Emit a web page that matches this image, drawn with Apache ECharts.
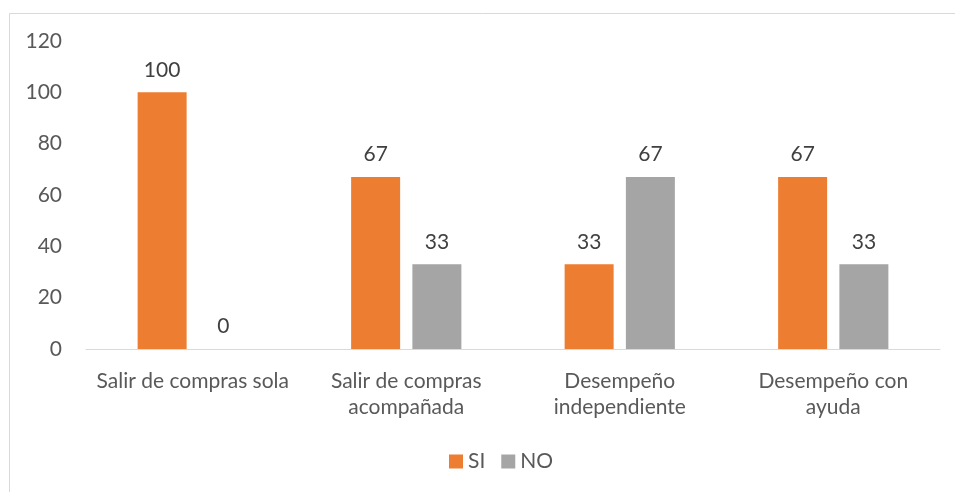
<!DOCTYPE html>
<html>
<head>
<meta charset="utf-8">
<script src="https://cdn.jsdelivr.net/npm/echarts@6/dist/echarts.min.js"></script>
<style>
  html, body { margin: 0; padding: 0; background: #fff; }
  #chart { width: 955px; height: 492px; }
</style>
</head>
<body>
<div id="chart"></div>
<script>
// categories and values
const categories = ['Salir de compras sola', 'Salir de compras\nacompañada', 'Desempeño\nindependiente', 'Desempeño con\nayuda']
const siValues = [100, 67, 33, 67]
const noValues = [0, 33, 67, 33]
const yTicks = { min: 0, max: 120, interval: 20 }

const textColor = '#595959'
const fontFamily = 'Lato, Liberation Sans, Arial, sans-serif'
const fontSize = 21

const chart = echarts.init(document.getElementById('chart'))

const barLabel = {
  show: true,
  position: 'top',
  distance: 12,
  color: '#404040',
  fontSize: fontSize,
  fontFamily: fontFamily
}

chart.setOption({
  animation: false,
  textStyle: { fontFamily: fontFamily },
  graphic: [{
    type: 'rect',
    shape: { x: 9.5, y: 13.5, width: 1000, height: 1000 },
    style: { fill: 'none', stroke: '#d9d9d9', lineWidth: 1 },
    silent: true
  }],
  grid: {
    left: 86,
    right: 15,
    top: 41,
    bottom: 143
  },
  legend: {
    bottom: 15,
    left: 444,
    itemWidth: 14,
    itemHeight: 14,
    itemGap: 16,
    icon: 'rect',
    textStyle: { color: textColor, fontSize: fontSize, fontFamily: fontFamily },
    data: ['SI', 'NO']
  },
  xAxis: {
    type: 'category',
    data: categories,
    axisTick: { show: false },
    axisLine: { lineStyle: { color: '#d9d9d9', width: 1 } },
    axisLabel: {
      color: textColor,
      fontSize: fontSize,
      lineHeight: 26,
      margin: 19,
      interval: 0
    }
  },
  yAxis: {
    type: 'value',
    min: yTicks.min,
    max: yTicks.max,
    interval: yTicks.interval,
    axisLine: { show: false },
    axisTick: { show: false },
    splitLine: { show: false },
    axisLabel: { color: textColor, fontSize: fontSize, margin: 24 }
  },
  series: [{
    name: 'SI',
    type: 'bar',
    data: siValues,
    barWidth: 49,
    barGap: '25%',
    itemStyle: { color: '#ED7D31' },
    label: barLabel
  }, {
    name: 'NO',
    type: 'bar',
    data: noValues,
    barWidth: 49,
    itemStyle: { color: '#A5A5A5' },
    label: barLabel
  }]
})
</script>
</body>
</html>
